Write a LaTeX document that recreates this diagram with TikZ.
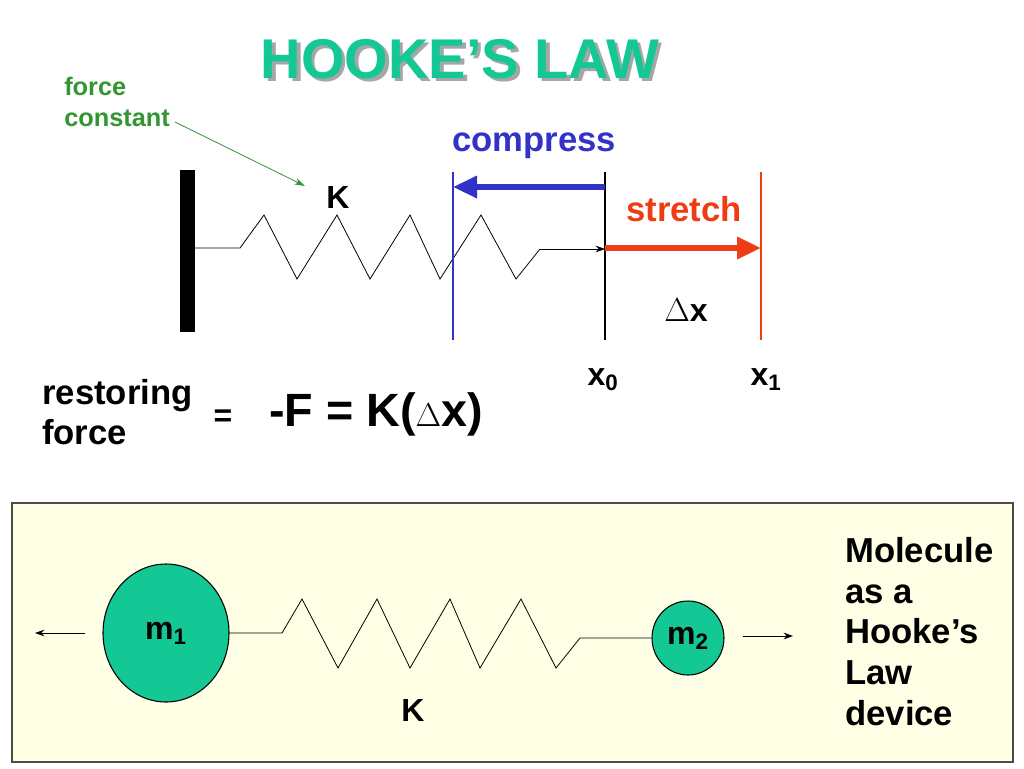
\documentclass[tikz,border=0pt]{standalone}
\usepackage{fontspec}
\setmainfont{Liberation Sans}
\usetikzlibrary{arrows.meta,shapes.geometric}
\definecolor{teal1}{RGB}{20,200,150}
\definecolor{fgreen}{RGB}{50,150,50}
\definecolor{cblue}{RGB}{50,50,200}
\definecolor{sred}{RGB}{240,60,20}
\definecolor{boxbg}{RGB}{255,255,230}
\definecolor{massc}{RGB}{20,200,150}
\begin{document}
\begin{tikzpicture}[x=0.75pt,y=-0.75pt,
  txt/.style={font=\bfseries\fontsize{24}{30}\selectfont,inner sep=0},
  spring/.style={black,line width=0.6pt,line join=miter},
  mass/.style={ellipse,draw=black,fill=massc,line width=0.8pt,inner sep=0}]
\useasboundingbox (0,0) rectangle (1024,768);
\fill[white] (0,0) rectangle (1024,768);
% title
\node (title) [inner sep=0,text=teal1,font=\bfseries\fontsize{42}{46}\selectfont] at (460,61) {\makebox[0pt][l]{\raisebox{-2.5pt}{\hspace{2.5pt}\textcolor{gray!70}{HOOKE’S LAW}}}HOOKE’S LAW};
% force constant
\node (fc) [text=fgreen,font=\bfseries\fontsize{19}{23}\selectfont,align=left,inner sep=0,anchor=west] at (64,102) {force\\constant};
\coordinate (fcend) at (305,186);
\draw[fgreen,line width=0.6pt,-{Stealth[length=8pt,width=5pt]}] (175,122) -- (fcend);
% wall
\fill (180,170) rectangle (195,332);
\node (wall) at (187,251) {};
% top spring
\coordinate (sEnd) at (605,249);
\draw[spring] (195,248) -- (240,248) -- (264,215) -- (297,279) -- (337,215) -- (370,279) -- (410,215) -- (440,279) -- (481,215) -- (516,279) -- (540,249);
\draw[spring,-{Stealth[length=7pt,width=5pt]}] (540,249) -- (sEnd);
\node (K1) [txt] at (338,197) {K};
% vertical lines
\draw[cblue,line width=0.8pt] (453,172) -- (453,340);
\draw[black,line width=0.8pt] (605,172) -- (605,340);
\draw[sred,line width=0.8pt] (761,172) -- (761,340);
\coordinate (cb) at (453,187);
\coordinate (sr) at (761,248);
\draw[cblue,line width=4pt,-{Stealth[length=18pt,width=16pt,inset=0pt]}] (605,187) -- (cb);
\draw[sred,line width=4pt,-{Stealth[length=18pt,width=16pt,inset=0pt]}] (605,248) -- (sr);
\node (comp) [txt,text=cblue,font=\bfseries\fontsize{26}{30}\selectfont] at (534,146) {compress};
\node (str) [txt,text=sred,font=\bfseries\fontsize{26}{30}\selectfont] at (684,209) {stretch};
\node (dx) [txt] at (686,310) {$\Delta$x};
\node (x0) [txt] at (603,380) {x\textsubscript{0}};
\node (x1) [txt] at (766,380) {x\textsubscript{1}};
% equation
\node (rf) [txt,font=\bfseries\fontsize{26}{30}\selectfont,align=left,anchor=west] at (42,412) {restoring\\force};
\node (eq) [txt] at (223,418) {=};
\node (hl) [inner sep=0,font=\bfseries\fontsize{35}{40}\selectfont] at (376,414) {-F = K($\Delta$x)};
% bottom box
\draw[fill=boxbg,draw=gray!60!black,line width=0.8pt] (12,503) rectangle (1013,762);
\node (m1) [mass,minimum width=94.5pt,minimum height=103.5pt,font=\bfseries\fontsize{24}{28}\selectfont] at (166,633) {m\textsubscript{1}};
\node (m2) [mass,minimum width=54pt,minimum height=55.5pt,font=\bfseries\fontsize{24}{28}\selectfont] at (688,638) {m\textsubscript{2}};
\draw[spring] (m1.east) -- (282,633) -- (302,599) -- (338,668) -- (377,599) -- (410,668) -- (450,599) -- (480,668) -- (521,599) -- (556,668) -- (580,638) -- (m2.west);
\coordinate (la) at (35,633);
\coordinate (ra) at (793,636);
\draw[line width=0.7pt,-{Stealth[length=7pt,width=5pt]}] (85,633) -- (la);
\draw[line width=0.7pt,-{Stealth[length=7pt,width=5pt]}] (743,636) -- (ra);
\node (K2) [txt] at (413,710) {K};
\node (mol) [txt,font=\bfseries\fontsize{26}{30.5}\selectfont,align=left,anchor=north west] at (845,537) {Molecule\\as a\\Hooke’s\\Law\\device};
\end{tikzpicture}
\end{document}
